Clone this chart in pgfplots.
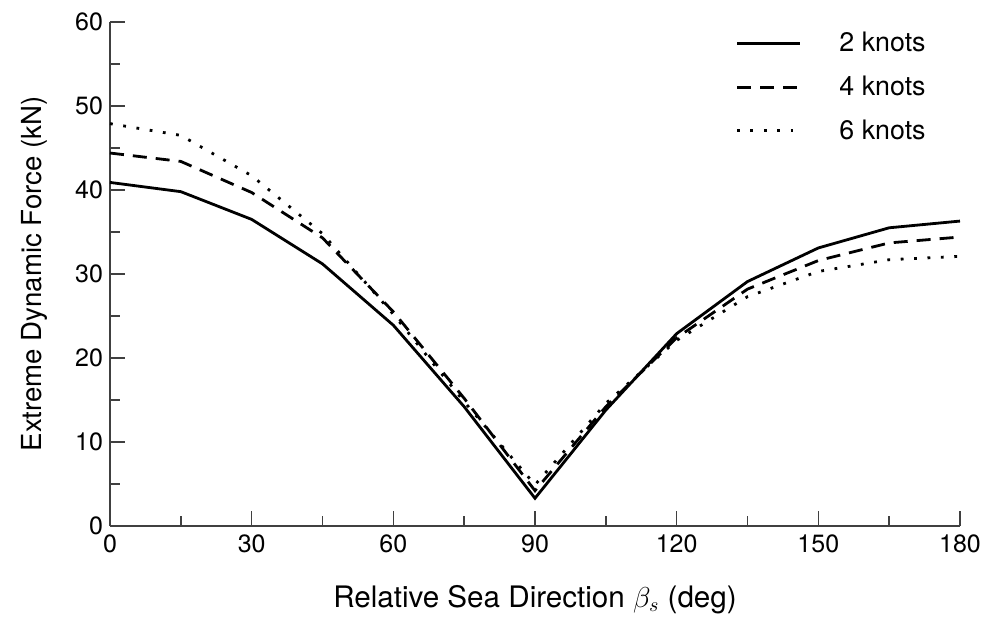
\documentclass[border=0pt]{standalone}
\usepackage{fontspec}
\setmainfont{TeX Gyre Heros}
\usepackage{pgfplots}
\pgfplotsset{compat=1.18}

\pgfplotstableread{
deg  k2    k4    k6
0    40.9  44.4  47.9
15   39.8  43.4  46.5
30   36.5  39.7  41.7
45   31.2  34.3  34.8
60   23.9  25.5  25.2
75   14.2  15.2  14.8
90   3.3   4.2   4.9
105  13.8  14.2  14.6
120  22.9  22.4  22.1
135  29.1  28.2  27.3
150  33.1  31.6  30.3
165  35.5  33.7  31.7
180  36.3  34.4  32.1
}\forcedata

\begin{document}
\begin{tikzpicture}
\begin{axis}[
    scale only axis,
    width=425pt, height=252pt,
    xmin=0, xmax=180, ymin=0, ymax=60,
    axis lines*=left,
    axis line style={black!75, line width=0.7pt},
    xtick={0,30,...,180}, ytick={0,10,...,60},
    minor xtick={15,45,...,165}, minor ytick={5,15,...,55},
    tick align=inside,
    major tick length=7.5pt, minor tick length=5pt,
    tick style={black!75, line width=0.7pt},
    /pgf/number format/assume math mode=true,
    tick label style={font=\fontsize{12.5}{14}\selectfont},
    xticklabel style={yshift=-1pt},
    xlabel={Relative Sea Direction $\beta_s$ (deg)},
    ylabel={Extreme Dynamic Force (kN)},
    xlabel style={yshift=-9pt, font=\fontsize{14.8}{17}\selectfont},
    ylabel style={yshift=7pt, font=\fontsize{13.8}{16}\selectfont},
    legend style={draw=none, fill=none, at={(1,1)}, anchor=north east,
        xshift=-12pt, yshift=-1pt, row sep=6.5pt,
        font=\fontsize{13.4}{15}\selectfont,
        nodes={inner sep=2pt},
        /tikz/every odd column/.append style={column sep=17pt}},
    legend cell align=left,
    legend image code/.code={\draw[#1] (0pt,0pt) -- (31.5pt,0pt);},
]
\addplot[black, line width=1.4pt] table[x=deg, y=k2] {\forcedata};
\addlegendentry{2 knots}
\addplot[black, line width=1.4pt, dash pattern=on 7pt off 4.5pt] table[x=deg, y=k4] {\forcedata};
\addlegendentry{4 knots}
\addplot[black, line width=1.4pt, dash pattern=on 1.4pt off 5.3pt] table[x=deg, y=k6] {\forcedata};
\addlegendentry{6 knots}
\coordinate (bl) at (rel axis cs:0,0);
\coordinate (tr) at (rel axis cs:1,1);
\end{axis}
\path (bl) ++(-55pt,-46.5pt);
\path (tr) ++(14.5pt,11pt);
\end{tikzpicture}
\end{document}
